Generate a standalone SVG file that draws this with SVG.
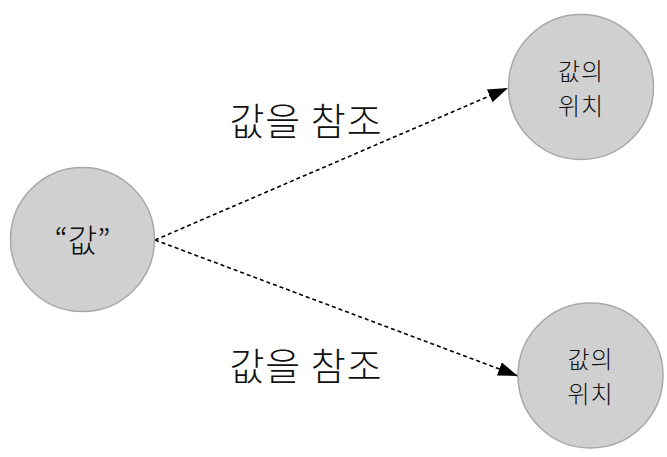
<svg xmlns="http://www.w3.org/2000/svg" width="667" height="457" viewBox="0 0 667 457">
<style>
.n{fill:#d0d0d0;stroke:#a8a8a8;stroke-width:1.5}
.t{font-family:"Noto Sans CJK KR","Noto Sans",sans-serif;fill:#111;text-anchor:middle;font-weight:300}
.e{stroke:#000;stroke-width:1.6;stroke-dasharray:4 3;fill:none}
</style>
<defs>
<marker id="ah" viewBox="0 0 20 14" refX="20" refY="7" markerWidth="20" markerHeight="14" markerUnits="userSpaceOnUse" orient="auto">
<path d="M0,0L20,7L0,14z" fill="#000"/>
</marker>
</defs>
<rect width="667" height="457" fill="#fff"/>
<g id="connectors">
<line class="e" x1="155" y1="240" x2="508" y2="88" marker-end="url(#ah)"/>
<line class="e" x1="155" y1="240" x2="518" y2="376" marker-end="url(#ah)"/>
<text class="t" x="306" y="135" font-size="38" letter-spacing="1">값을 참조</text>
<text class="t" x="306" y="380" font-size="38" letter-spacing="1">값을 참조</text>
</g>
<g id="src">
<circle class="n" cx="82.5" cy="239.5" r="72"/>
<text class="t" x="82.5" y="252" font-size="32">“값”</text>
</g>
<g id="loc1">
<circle class="n" cx="581" cy="87" r="72.5"/>
<text class="t" x="581" y="80" font-size="24" letter-spacing="1">값의</text>
<text class="t" x="581" y="115" font-size="24" letter-spacing="1">위치</text>
</g>
<g id="loc2">
<circle class="n" cx="590.5" cy="375.5" r="72.5"/>
<text class="t" x="590.5" y="368" font-size="24" letter-spacing="1">값의</text>
<text class="t" x="590.5" y="403" font-size="24" letter-spacing="1">위치</text>
</g>
</svg>
